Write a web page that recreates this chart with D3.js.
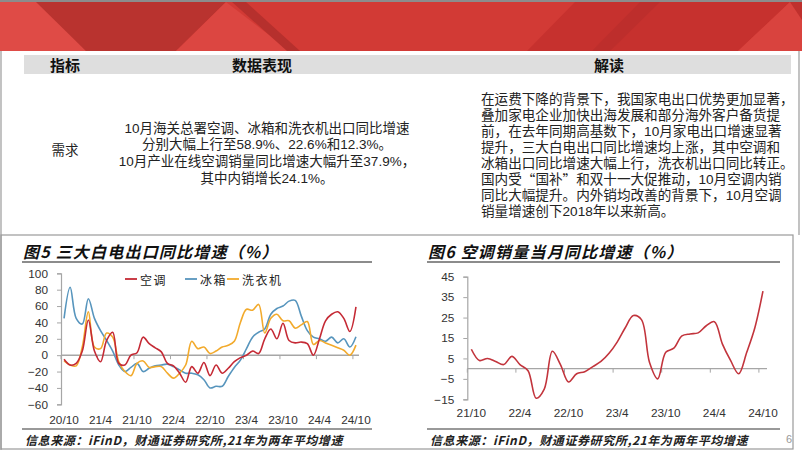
<!DOCTYPE html>
<html>
<head>
<meta charset="utf-8">
<script src="https://cdn.jsdelivr.net/npm/d3@7"></script>
<style>
  body { margin: 0; background: #fff; }
  svg { display: block; font-family: "Liberation Sans", "Noto Sans CJK SC", sans-serif; }
</style>
</head>
<body>
<svg id="slide" width="802" height="451"></svg>
<script>
// ---- data ----

// build "yy/m" month labels for a category axis
function monthLabels(year, month, count) {
  var out = [];
  for (var i = 0; i < count; i++) {
    var m = month + i;
    var y = year + Math.floor((m - 1) / 12);
    m = ((m - 1) % 12) + 1;
    out.push(String(y).slice(2) + "/" + m);
  }
  return out;
}

// fig 5: monthly export growth 20/10 .. 24/10
var months5 = monthLabels(2020, 10, 49);
var acExport = [-5, -12, -10, 5, 43, 5, -8, 18, 28, -10, -12, 0, 3, 22, 14, 9, 4, -10, -13, -22, -33, -14, -22,
  -9, -25, -12, -22, -16, -8, -3, 0, 5, 2, 20, 32, 20, 39, 18, 15, 16, 14, 0, 20, 42, 50, 53, 45, 29, 58.9];
var fridgeExport = [45, 83, 45, 38, 69, 45, 30, 18, 5, -12, -20, -15, -10, -20, -16, -13, -12, -11, -14, -18, -22, -22, -24,
  -30, -40, -38, -38, -26, -15, -6, 8, 22, 28, 32, 50, 57, 60, 66, 67, 48, 30, 22, 20, 17, 22, 15, 20, 10, 22.6];
var washerExport = [-7, -12, -13, 10, 53, 10, 8, 27, 22, -8, -20, -25, -10, -7, -15, -14, -14, -22, -28, -22, -12, 17, 8,
  10, 2, 5, 10, 12, 17, 40, 56, 55, 62, 27, 45, 50, 42, 42, 33, 37, 41, 13, 18, 15, 12, 9, 6, 0, 12.3];
var series5 = ["空调", "冰箱", "洗衣机"];
var yTicks5 = [-60, -40, -20, 0, 20, 40, 60, 80, 100];
var xTicks5 = ["20/10", "21/4", "21/10", "22/4", "22/10", "23/4", "23/10", "24/4", "24/10"];

// fig 6: monthly AC sales growth 21/10 .. 24/10
var months6 = monthLabels(2021, 10, 37);
var acSales = [9.5, 4, 5, 3.5, 2, 6, 2, -1, -14.5, -10, 8.5, 2, -6.5, -2.5, -1.5, 1, 3.5, 7.5, 13, 20, 26, 24, 3,
  -5, 8, 10, 16, 17, 17.5, 21, 23, 12, 4, -2.5, 8, 20, 37.9];
var yTicks6 = [-15, -5, 5, 15, 25, 35, 45];
var xTicks6 = ["21/10", "22/4", "22/10", "23/4", "23/10", "24/4", "24/10"];

// table text
var headCols = ["指标", "数据表现", "解读"];
var rowName = "需求";
var dataLines = [
  "10月海关总署空调、冰箱和洗衣机出口同比增速",
  "分别大幅上行至58.9%、22.6%和12.3%。",
  "10月产业在线空调销量同比增速大幅升至37.9%，",
  "其中内销增长24.1%。"
];
var readLines = [
  "在运费下降的背景下，我国家电出口优势更加显著，",
  "叠加家电企业加快出海发展和部分海外客户备货提",
  "前，在去年同期高基数下，10月家电出口增速显著",
  "提升，三大白电出口同比增速均上涨，其中空调和",
  "冰箱出口同比增速大幅上行，洗衣机出口同比转正。",
  "国内受“国补”和双十一大促推动，10月空调内销",
  "同比大幅提升。内外销均改善的背景下，10月空调",
  "销量增速创下2018年以来新高。"
];
var sourceText = "信息来源：iFinD，财通证券研究所,21年为两年平均增速";

var svg = d3.select("#slide");
var cjk = "'Noto Sans CJK SC', sans-serif";

// ---- banner ----
var banner = svg.append("g").attr("class", "banner");
banner.append("rect").attr("x", 0).attr("y", 0).attr("width", 802).attr("height", 51).attr("fill", "#d23a35");
var shapes = [
  {fill: "#df4b46", pts: [[0, 2], [40, 2], [86, 51], [0, 51]]},
  {fill: "#b9332f", pts: [[36, 2], [226, 2], [176, 51], [86, 51]]},
  {fill: "#dc4641", pts: [[226, 2], [290, 51], [176, 51]]},
  {fill: "#b6302d", pts: [[232, 2], [246, 2], [300, 51], [287, 51]]},
  {fill: "#c6312e", pts: [[575, 2], [790, 2], [738, 51], [527, 51]]},
  {fill: "#bd2e2c", pts: [[640, 2], [660, 2], [610, 51], [592, 51]]},
  {fill: "#d9433e", pts: [[790, 2], [802, 2], [802, 51], [738, 51]]},
  {fill: "#bf302d", pts: [[790, 2], [802, 2], [802, 20]]}
];
banner.selectAll("polygon").data(shapes).enter().append("polygon")
  .attr("points", function(d) { return d.pts.join(" "); })
  .attr("fill", function(d) { return d.fill; });
banner.append("rect").attr("x", 0).attr("y", 0).attr("width", 802).attr("height", 2).attr("fill", "#8c8c8c");

// ---- table ----
var table = svg.append("g").attr("class", "table").style("font-family", "'Liberation Sans'," + cjk);
table.append("rect").attr("x", 24).attr("y", 55).attr("width", 767).attr("height", 19).attr("fill", "#dedede");
var headX = [65, 262, 609];
table.selectAll("text.head").data(headCols).enter().append("text")
  .attr("class", "head")
  .attr("x", function(d, i) { return headX[i]; })
  .attr("y", 65)
  .attr("text-anchor", "middle").attr("dominant-baseline", "central")
  .attr("font-size", 15).attr("font-weight", "bold").attr("fill", "#111")
  .text(function(d) { return d; });

table.append("text").attr("x", 65).attr("y", 150)
  .attr("text-anchor", "middle").attr("dominant-baseline", "central")
  .attr("font-size", 13.5).attr("fill", "#222").text(rowName);

table.selectAll("text.data").data(dataLines).enter().append("text")
  .attr("class", "data")
  .attr("x", 267)
  .attr("y", function(d, i) { return 128 + i * 16.7; })
  .attr("text-anchor", "middle").attr("dominant-baseline", "central")
  .attr("font-size", 13.5).attr("fill", "#222")
  .text(function(d) { return d; });

// curly quotes go to the CJK font so they are full width
var read = table.selectAll("text.read").data(readLines).enter().append("text")
  .attr("class", "read")
  .attr("x", 481)
  .attr("y", function(d, i) { return 99 + i * 16; })
  .attr("dominant-baseline", "central")
  .attr("font-size", 13.6).attr("fill", "#222");
read.selectAll("tspan")
  .data(function(d) { return d.split(/([“”])/).filter(function(s) { return s.length; }); })
  .enter().append("tspan")
  .style("font-family", function(s) { return /[“”]/.test(s) ? cjk : null; })
  .text(function(s) { return s; });

// ---- frames ----
var frame = svg.append("g").attr("fill", "none").attr("stroke", "#9a9a9a").attr("stroke-width", 1.2);
frame.append("line").attr("x1", 1).attr("y1", 51).attr("x2", 1).attr("y2", 450);
frame.append("line").attr("x1", 799).attr("y1", 51).attr("x2", 799).attr("y2", 235);
frame.append("rect").attr("x", 1).attr("y", 235).attr("width", 792).attr("height", 214);

// ---- chart helpers ----
function chartTitle(x0, x1, text) {
  svg.append("text").attr("x", x0 + 1).attr("y", 251)
    .attr("dominant-baseline", "central")
    .style("font-family", cjk).attr("font-size", 16).attr("font-weight", "bold")
    .attr("font-style", "italic").attr("letter-spacing", 1.2).attr("fill", "#111")
    .text(text);
  svg.append("line").attr("x1", x0).attr("x2", x1).attr("y1", 262).attr("y2", 262)
    .attr("stroke", "#666").attr("stroke-width", 1.5);
  svg.append("line").attr("x1", x0).attr("x2", x1).attr("y1", 429).attr("y2", 429)
    .attr("stroke", "#777").attr("stroke-width", 1.5);
  svg.append("text").attr("x", x0 + 3).attr("y", 439)
    .attr("dominant-baseline", "central")
    .style("font-family", cjk).attr("font-size", 12).attr("font-weight", "bold")
    .attr("font-style", "italic").attr("letter-spacing", 0.6).attr("fill", "#222")
    .text(sourceText);
}

function drawAxes(g, x, y, yTicks, xTicks, labelY, every) {
  var x0 = x.range()[0], x1 = x.range()[1];
  // y axis
  var ya = g.append("g").attr("transform", "translate(" + x0 + ",0)")
    .call(d3.axisLeft(y).tickValues(yTicks).tickSize(4).tickPadding(9));
  ya.select(".domain").attr("stroke", "#a6a6a6").attr("stroke-width", 1.2);
  ya.selectAll(".tick line").attr("stroke", "#a6a6a6");
  ya.selectAll(".tick text").attr("font-size", 11.8).attr("fill", "#333")
    .style("font-family", "'Liberation Sans', Arial, sans-serif");
  // zero line with boundary ticks
  var y0 = y(0);
  g.append("line").attr("x1", x0).attr("x2", x1).attr("y1", y0).attr("y2", y0)
    .attr("stroke", "#a6a6a6").attr("stroke-width", 1.4);
  var cats = x.domain();
  var bounds = cats.filter(function(d, i) { return i % every === 0; });
  g.selectAll("line.xt").data(bounds).enter().append("line")
    .attr("class", "xt")
    .attr("x1", function(d) { return x(d); }).attr("x2", function(d) { return x(d); })
    .attr("y1", y0).attr("y2", y0 + 4)
    .attr("stroke", "#a6a6a6");
  g.selectAll("text.xl").data(xTicks).enter().append("text")
    .attr("class", "xl")
    .attr("x", function(d) { return x(d) + x.bandwidth() / 2; })
    .attr("y", labelY)
    .attr("text-anchor", "middle").attr("dominant-baseline", "central")
    .attr("font-size", 11.8).attr("fill", "#333")
    .style("font-family", "'Liberation Sans', Arial, sans-serif")
    .text(function(d) { return d; });
}

function drawLine(g, x, y, cats, values, color) {
  var line = d3.line()
    .x(function(d, i) { return x(cats[i]) + x.bandwidth() / 2; })
    .y(function(d) { return y(d); })
    .curve(d3.curveCatmullRom.alpha(0.5));
  g.append("path").datum(values)
    .attr("d", line)
    .attr("fill", "none")
    .attr("stroke", color)
    .attr("stroke-width", 1.6)
    .attr("stroke-linejoin", "round");
}

// ---- fig 5 ----
chartTitle(22, 372, "图5 三大白电出口同比增速（%）");
var g5 = svg.append("g");
var x5 = d3.scaleBand().domain(months5).range([61, 359]);
var y5 = d3.scaleLinear().domain([-60, 100]).range([404.3, 273.3]);
drawAxes(g5, x5, y5, yTicks5, xTicks5, 420, 6);

var colors5 = ["#c52a35", "#5795bd", "#f2aa2c"];
drawLine(g5, x5, y5, months5, fridgeExport, colors5[1]);
drawLine(g5, x5, y5, months5, washerExport, colors5[2]);
drawLine(g5, x5, y5, months5, acExport, colors5[0]);

var legendX = [125, 185, 227];
var legend = g5.selectAll("g.legend").data(series5).enter().append("g")
  .attr("class", "legend")
  .attr("transform", function(d, i) { return "translate(" + legendX[i] + ",279)"; });
legend.append("line").attr("x1", 0).attr("x2", 12).attr("y1", 0).attr("y2", 0)
  .attr("stroke", function(d, i) { return colors5[i]; }).attr("stroke-width", 1.8);
legend.append("text").attr("x", 15).attr("y", 0)
  .attr("dominant-baseline", "central")
  .style("font-family", cjk).attr("font-size", 12).attr("letter-spacing", 1.5).attr("fill", "#222")
  .text(function(d) { return d; });

// ---- fig 6 ----
chartTitle(427, 780, "图6 空调销量当月同比增速（%）");
var g6 = svg.append("g");
var x6 = d3.scaleBand().domain(months6).range([467.3, 767]);
var y6 = d3.scaleLinear().domain([-15, 45]).range([399.3, 276.7]);
drawAxes(g6, x6, y6, yTicks6, xTicks6, 413, 6);
drawLine(g6, x6, y6, months6, acSales, "#c2343c");

// page number
svg.append("text").attr("x", 789).attr("y", 439).attr("text-anchor", "middle")
  .attr("dominant-baseline", "central").attr("font-size", 11).attr("fill", "#999").text("6");
</script>
</body>
</html>
